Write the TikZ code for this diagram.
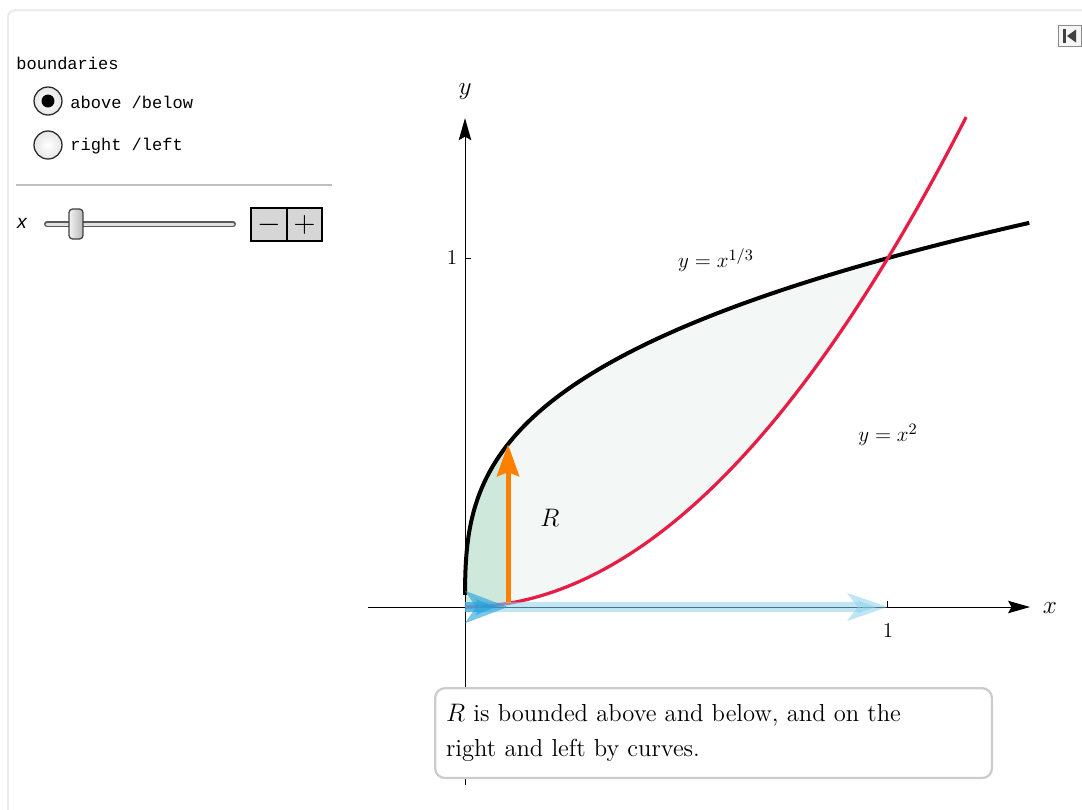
\documentclass[tikz,border=0pt]{standalone}
\usepackage{fontspec}
\setmonofont{Liberation Mono}
\setsansfont{Liberation Sans}
\usetikzlibrary{arrows.meta,positioning,calc}
\definecolor{curvered}{RGB}{230,30,70}
\definecolor{fillpale}{RGB}{243,247,245}
\definecolor{fillgreen}{RGB}{206,232,219}
\definecolor{arroworange}{RGB}{255,128,0}
\definecolor{skyblue}{RGB}{140,210,236}
\definecolor{deepblue}{RGB}{30,160,220}
\definecolor{btngray}{RGB}{214,214,214}
\tikzset{
  frame/.style={draw=black!8,line width=0.04cm,rounded corners=0.14cm},
  ctl/.style={font=\ttfamily\fontsize{9.7}{12}\selectfont,anchor=west,inner sep=0pt},
  radio/.style={circle,draw=black!85,line width=0.025cm,minimum size=0.56cm,inner sep=0pt,
    inner color=white,outer color=black!10},
  stepbtn/.style={rectangle,draw=black,fill=btngray,line width=0.04cm,minimum width=0.71cm,
    minimum height=0.66cm,inner sep=0pt,outer sep=0pt,font=\fontsize{17}{17}\selectfont},
  thumb/.style={rectangle,rounded corners=0.07cm,draw=black!75,line width=0.025cm,
    minimum width=0.28cm,minimum height=0.6cm,left color=black!5,right color=black!28},
  axis/.style={line width=0.55pt,-{Stealth[length=0.44cm,width=0.25cm,inset=0.07cm]}},
  lbl/.style={font=\fontsize{13}{15}\selectfont,inner sep=0pt},
  biglbl/.style={font=\fontsize{15}{17}\selectfont,inner sep=0pt},
  upper/.style={line width=0.08cm,black},
  lower/.style={line width=0.065cm,curvered},
  vecup/.style={line width=0.1cm,arroworange,-{Stealth[length=0.64cm,width=0.44cm,inset=0.08cm]}},
  bigsweep/.style={line width=0.2cm,skyblue,opacity=0.55,
    -{Stealth[length=0.8cm,width=0.54cm,inset=0.2cm]}},
  smallsweep/.style={line width=0.2cm,deepblue,opacity=0.6,
    -{Stealth[length=0.84cm,width=0.62cm,inset=0.2cm]}},
  infobox/.style={draw=black!20,line width=0.045cm,rounded corners=0.2cm,fill=white,
    text width=10.7cm,minimum height=1.8cm,inner xsep=0.22cm,align=left,
    font=\fontsize{14}{20}\selectfont},
}
\begin{document}
\begin{tikzpicture}[x=0.02cm,y=-0.02cm]
  \useasboundingbox (0,0) rectangle (1082,809);
  \draw[frame] (8,10) rectangle (1120,850);

  % controls on the left
  \node[ctl] (bndlbl) at (16,63) {boundaries};
  \node[radio] (rabove) at (48,101) {};
  \fill (rabove) circle (0.13cm);
  \node[ctl] (abovelbl) at (70,102) {above /below};
  \node[radio] (rright) at (48,145) {};
  \node[ctl] (rightlbl) at (70,146) {right /left};
  \coordinate (sepL) at (16,185);
  \coordinate (sepR) at (332,185);
  \draw[black!25,line width=0.03cm] (sepL) -- (sepR);
  \node[font=\sffamily\itshape\fontsize{11}{12}\selectfont,inner sep=0pt] (xsl) at (22,223) {x};
  \coordinate (trackL) at (47,224);
  \coordinate (trackR) at (233,224);
  \draw[line width=0.12cm,line cap=round,black!65] (trackL) -- (trackR);
  \draw[line width=0.06cm,line cap=round,black!12] (trackL) -- (trackR);
  \node[thumb] (knob) at (76,224) {};
  \node[stepbtn] (minus) at (269,224.5) {$-$};
  \node[stepbtn,right=0pt of minus] (plus) {$+$};

  % reset icon
  \node[rectangle,draw=black!45,fill=black!4,line width=0.03cm,minimum width=0.46cm,
    minimum height=0.42cm,inner sep=0pt] (reset) at (1070,36) {};
  \fill[black!75] (1063,29) rectangle (1066,43);
  \fill[black!75] (1067,36) -- (1076,29.5) -- (1076,42.5) -- cycle;

  % graph
  \begin{scope}[shift={(465,607)},x={(8.46cm,0cm)},y={(0cm,6.98cm)}]
    \fill[fillpale] plot[domain=0.4667:1,variable=\t,samples=40] ({\t^3},{\t})
      -- plot[domain=1:0.1017,variable=\t,samples=40] ({\t},{\t^2}) -- cycle;
    \fill[fillgreen] (0,0) -- plot[domain=0:0.4667,variable=\t,samples=40] ({\t^3},{\t})
      -- plot[domain=0.1017:0,variable=\t,samples=10] ({\t},{\t^2}) -- cycle;

    \coordinate (O) at (0,0);
    \coordinate (xL) at (-0.229,0);
    \coordinate (xR) at (1.336,0);
    \coordinate (yB) at (0,-0.51);
    \coordinate (yT) at (0,1.401);
    \draw[axis] (xL) -- (xR);
    \draw[axis] (yB) -- (yT);
    \coordinate (one) at (1,0);
    \coordinate (oneY) at (0,1);
    \draw[line width=0.55pt] (one) -- ++(0,0.016);
    \draw[line width=0.55pt] (oneY) -- ++(0.013,0);

    \draw[upper] plot[domain=0.035:1.1025,variable=\t,samples=120] ({\t^3},{\t});
    \draw[lower] plot[domain=0:1.185,variable=\t,samples=80] ({\t},{\t^2});

    \coordinate (vbot) at (0.1017,0.0103);
    \coordinate (vtop) at (0.1017,0.4667);
    \draw[vecup] (vbot) -- (vtop);

    \coordinate (hx) at (0.1017,0);
    \draw[bigsweep] (O) -- (one);
    \draw[smallsweep] (O) -- (hx);
  \end{scope}

  \node[biglbl] (ylab) at (465,92) {$y$};
  \node[biglbl] (xlab) at (1050,608) {$x$};
  \node[lbl] (onex) at (888,631) {$1$};
  \node[lbl] (oney) at (452,258) {$1$};
  \node[lbl] (cubelab) at (716,260) {$y = x^{1/3}$};
  \node[lbl] (sqlab) at (888,435) {$y = x^{2}$};
  \node[biglbl] (rlab) at (550,518) {$R$};

  \node[infobox,anchor=north west] (note) at (434,687)
    {$R$ is bounded above and below, and on the\\ right and left by curves.};
\end{tikzpicture}
\end{document}
